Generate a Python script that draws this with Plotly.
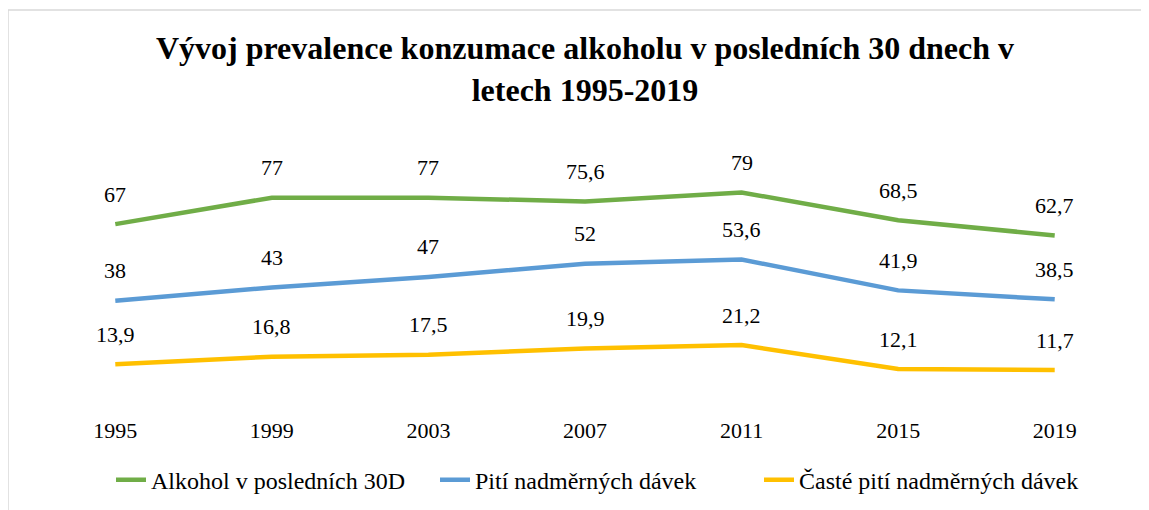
import plotly.graph_objects as go

years = ["1995", "1999", "2003", "2007", "2011", "2015", "2019"]
alkohol_30d = [67, 77, 77, 75.6, 79, 68.5, 62.7]
piti_nadmernych = [38, 43, 47, 52, 53.6, 41.9, 38.5]
caste_piti = [13.9, 16.8, 17.5, 19.9, 21.2, 12.1, 11.7]

series = [
    ("Alkohol v posledních 30D", alkohol_30d, "#70AD47"),
    ("Pití nadměrných dávek", piti_nadmernych, "#5B9BD5"),
    ("Časté pití nadměrných dávek", caste_piti, "#FFC000"),
]

FONT = "Liberation Serif"

# page body has an 8px margin: positions below are in figure coordinates
OFF = 8
PL = 37 - OFF      # plot left
PW = 1096          # plot width
PB = 401 - OFF     # plot bottom
PH = 264           # plot height

def fmt(v):
    return ("%g" % v).replace(".", ",")

fig = go.Figure()
annotations = []
for name, vals, col in series:
    fig.add_trace(go.Scatter(
        x=years, y=vals, mode="lines", name=name,
        line=dict(color=col, width=4.5),
    ))
    for i, v in enumerate(vals):
        annotations.append(dict(
            x=i, y=v, xref="x", yref="y", text=fmt(v), showarrow=False,
            yshift=30, yanchor="middle", font=dict(family=FONT, size=22, color="#000000"),
        ))

fig.update_layout(
    width=1149, height=510,
    margin=dict(l=PL, r=1149 - PL - PW, t=PB - PH, b=510 - PB),
    paper_bgcolor="white", plot_bgcolor="white",
    title=dict(
        text="<b>Vývoj prevalence konzumace alkoholu v posledních 30 dnech v<br>letech 1995-2019</b>",
        x=(585 - OFF) / 1149, xanchor="center", y=1 - 51 / 510, yanchor="top",
        font=dict(family=FONT, size=32, color="#000000"),
    ),
    showlegend=True,
    legend=dict(
        orientation="h", x=(103 - PL) / PW, xanchor="left", y=-0.30, yanchor="middle",
        font=dict(family=FONT, size=24, color="#000000"),
        entrywidth=279, entrywidthmode="pixels",
    ),
    annotations=annotations,
    shapes=[dict(
        type="rect", xref="paper", yref="paper",
        x0=(8 - OFF - PL) / PW, x1=(1170 - PL) / PW,
        y0=(PB - 530) / PH, y1=(PB - (10 - OFF)) / PH,
        line=dict(color="#D9D9D9", width=1.5), fillcolor="rgba(0,0,0,0)", layer="below",
    )],
)
fig.update_xaxes(
    type="category", range=[-0.5, 6.5], showgrid=False, showline=False, zeroline=False,
    ticks="", ticklabelstandoff=14,
    tickfont=dict(family=FONT, size=22, color="#000000"),
)
fig.update_yaxes(range=[0, 100], visible=False, showgrid=False)

fig.write_html("out.html")
